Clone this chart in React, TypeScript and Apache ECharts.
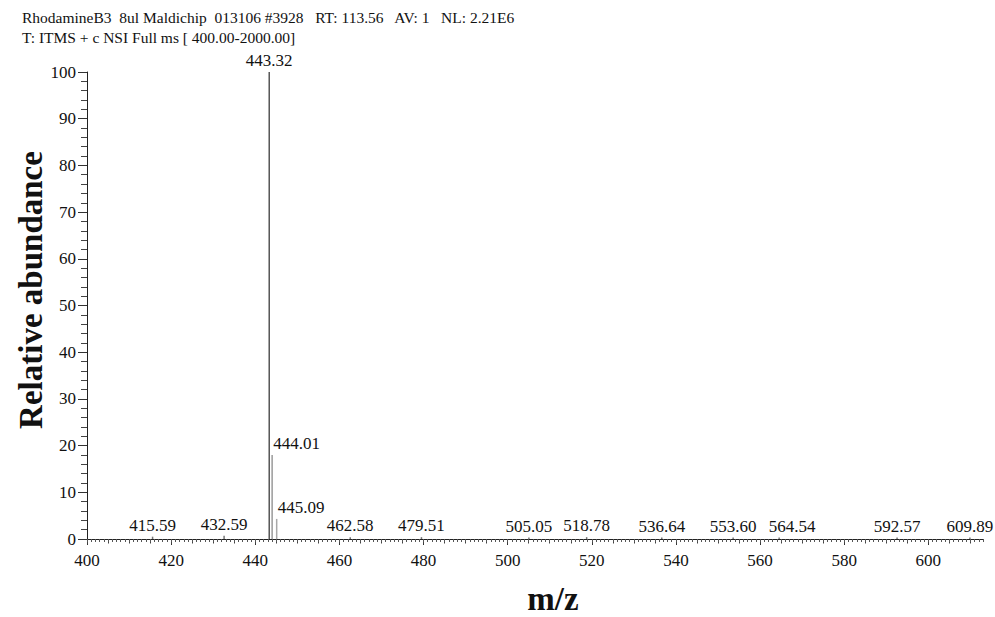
import React, { useEffect, useRef } from "react";
import * as echarts from "echarts";

const headerLines = [
  "RhodamineB3  8ul Maldichip  013106 #3928   RT: 113.56   AV: 1   NL: 2.21E6",
  "T: ITMS + c NSI Full ms [ 400.00-2000.00]",
];
const mz = [415.59, 432.59, 443.32, 444.01, 445.09, 462.58, 479.51, 505.05, 518.78, 536.64, 553.6, 564.54, 592.57, 609.89];
const abundance = [0.5, 0.7, 100, 18, 4.3, 0.4, 0.4, 0.3, 0.4, 0.3, 0.3, 0.3, 0.3, 0.3];
const xMajorTicks = [400, 420, 440, 460, 480, 500, 520, 540, 560, 580, 600];
const xMediumTicks = [400, 405, 410, 415, 420, 425, 430, 435, 440, 445, 450, 455, 460, 465, 470, 475, 480, 485, 490, 495, 500, 505, 510, 515, 520, 525, 530, 535, 540, 545, 550, 555, 560, 565, 570, 575, 580, 585, 590, 595, 600, 605, 610];
const xMin = 400;
const xMax = 613;

const FAMILY = "Liberation Serif";
const FONT = "'Liberation Serif', serif";

export default function App() {
  const ref = useRef<HTMLDivElement>(null);
  useEffect(() => {
    if (!ref.current) return;
    const chart = echarts.init(ref.current, null, { renderer: "svg" });
    const colors: Record<number, string> = { 2: "#555", 3: "#9a9a9a", 4: "#a8a8a8" };
    const data = mz.map((x, i) => {
      const item: any = {
        value: [x, abundance[i]],
        itemStyle: { color: colors[i] || "#777" },
      };
      if (i === 3 || i === 4) {
        item.label = { align: "left", offset: [1, 0] };
      }
      if (i === 11) {
        item.label = { offset: [13, 0] };
      }
      return item;
    });
    const axisBase = {
      type: "value",
      min: xMin,
      max: xMax,
      position: "bottom",
      splitLine: { show: false },
    };
    chart.setOption({
      animation: false,
      grid: { left: 87, right: 12, top: 72, bottom: 78 },
      xAxis: [
        {
          ...axisBase,
          interval: 20,
          axisLine: { show: true, lineStyle: { color: "#222", width: 1 } },
          axisTick: { show: true, length: 6, customValues: xMajorTicks, lineStyle: { color: "#333" } },
          minorTick: { show: false },
          axisLabel: {
            customValues: xMajorTicks,
            fontFamily: FAMILY,
            fontSize: 17,
            color: "#111",
            margin: 13,
          },
        },
        {
          ...axisBase,
          interval: 5,
          axisLine: { show: false },
          axisTick: { show: true, length: 4.5, customValues: xMediumTicks, lineStyle: { color: "#444" } },
          axisLabel: { show: false },
        },
        {
          ...axisBase,
          interval: 1,
          axisLine: { show: false },
          axisTick: { show: true, length: 3, lineStyle: { color: "#555" } },
          axisLabel: { show: false },
        },
      ],
      yAxis: {
        type: "value",
        min: 0,
        max: 100,
        interval: 10,
        splitLine: { show: false },
        axisLine: { show: true, lineStyle: { color: "#222", width: 1 } },
        axisTick: { show: true, length: 9, lineStyle: { color: "#333" } },
        minorTick: { show: true, splitNumber: 5, length: 6, lineStyle: { color: "#444" } },
        axisLabel: { fontFamily: FAMILY, fontSize: 17, color: "#111", margin: 11 },
      },
      series: [
        {
          type: "bar",
          xAxisIndex: 0,
          barWidth: 1.5,
          data,
          label: {
            show: true,
            position: "top",
            distance: 3,
            fontFamily: FAMILY,
            fontSize: 17,
            color: "#111",
            formatter: (p: any) => p.value[0].toFixed(2),
          },
        },
      ],
      graphic: [
        {
          type: "text",
          left: 22,
          top: 7,
          style: {
            text: headerLines.join("\n"),
            font: `15.5px ${FONT}`,
            lineHeight: 20,
            fill: "#111",
          },
        },
        {
          type: "text",
          x: 31,
          y: 290,
          rotation: Math.PI / 2,
          style: {
            text: "Relative abundance",
            font: `bold 33px ${FONT}`,
            textAlign: "center",
            textVerticalAlign: "middle",
            fill: "#111",
          },
        },
        {
          type: "text",
          x: 553,
          y: 599,
          style: {
            text: "m/z",
            font: `bold 33px ${FONT}`,
            textAlign: "center",
            textVerticalAlign: "middle",
            fill: "#111",
          },
        },
      ],
    });
    return () => chart.dispose();
  }, []);
  return (
    <div
      ref={ref}
      style={{ position: "fixed", left: 0, top: 0, width: 995, height: 617, background: "#fff" }}
    />
  );
}
